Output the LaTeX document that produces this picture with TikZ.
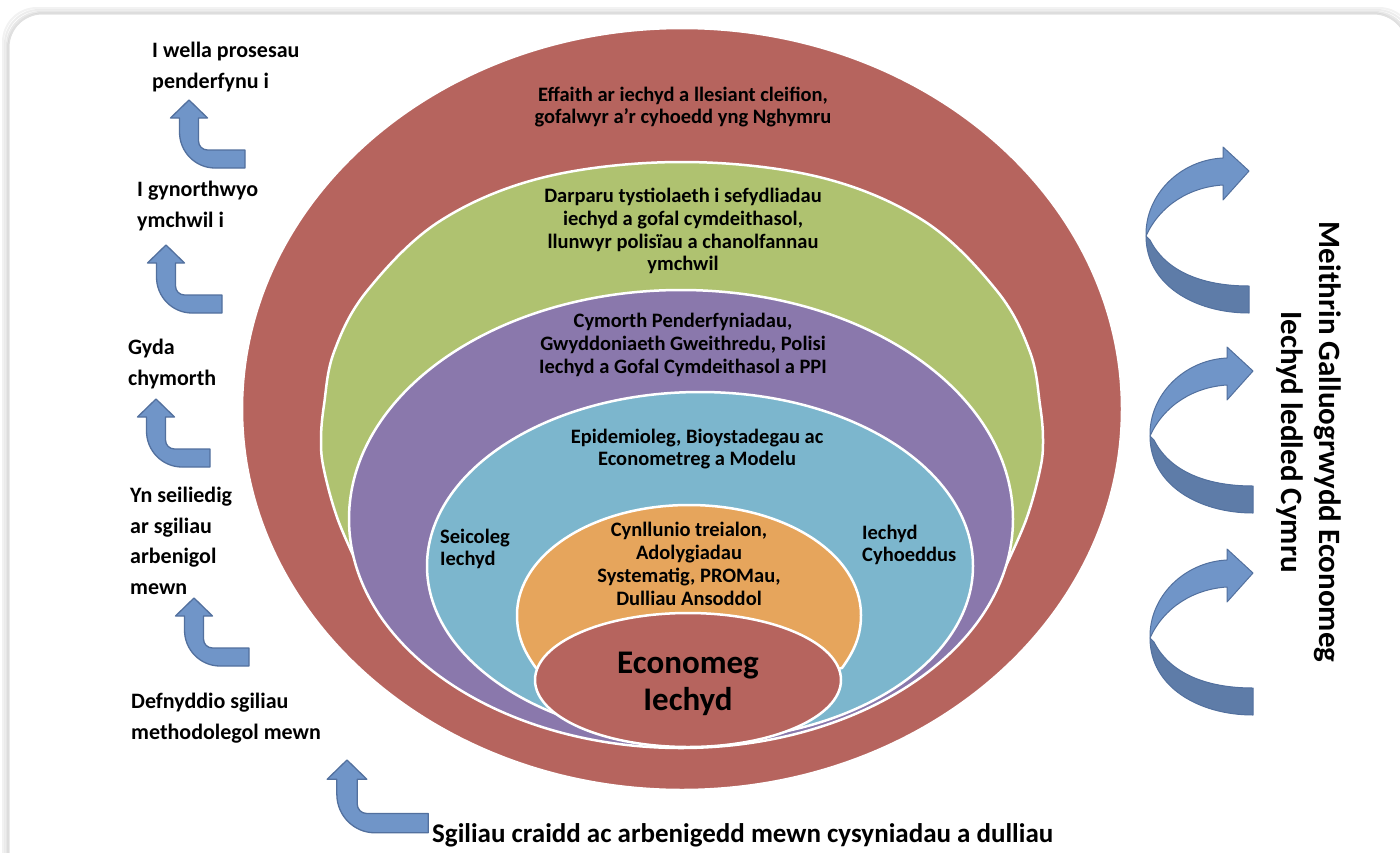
\documentclass[tikz,border=0pt]{standalone}
\usepackage{fontspec}
\setmainfont{Carlito}
\definecolor{redE}{RGB}{182,100,94}
\definecolor{greenE}{RGB}{175,194,112}
\definecolor{purpleE}{RGB}{138,120,172}
\definecolor{blueE}{RGB}{124,182,205}
\definecolor{orangeE}{RGB}{230,165,92}
\definecolor{arrLight}{RGB}{112,149,200}
\definecolor{arrDark}{RGB}{94,124,168}
\definecolor{arrEdge}{RGB}{82,112,158}
\begin{document}
\begin{tikzpicture}[x=1pt,y=-1pt,
  band/.style={draw=white,line width=2.5pt},
  lbl/.style={font=\bfseries\fontsize{20.5}{22.8}\selectfont,align=center,text=black,inner sep=0pt},
  side/.style={font=\bfseries\fontsize{22}{30.5}\selectfont,align=left,anchor=west,inner sep=0pt},
  bentup/.pic={
    \path[fill=arrLight,draw=arrEdge,line width=1.3pt,line join=round]
      (0,0) -- (18.5,18) -- (9.5,18) -- (9.5,41)
      .. controls (9.5,46) and (13.5,50) .. (18.5,50)
      -- (#1,50) -- (#1,68) -- (26,68)
      .. controls (6.5,68) and (-9.5,52) .. (-9.5,32)
      -- (-9.5,18) -- (-18.5,18) -- cycle;
  },
  curvr/.pic={
    \path[fill=arrDark,draw=arrEdge,line width=1pt,line join=round]
      (-103,65) .. controls (-103,114) and (-54,142) .. (0,142)
      -- (0,115) .. controls (-49,115) and (-84,99) .. (-99,69) -- cycle;
    \path[fill=arrLight,draw=arrEdge,line width=1pt,line join=round]
      (0,0) -- (-26,-24) -- (-26,-13)
      .. controls (-69,-11) and (-104,24) .. (-103,65)
      .. controls (-89,34) and (-59,16) .. (-26,14)
      -- (-26,29) -- cycle;
  }]
\useasboundingbox (0,0) rectangle (1400,852);
\fill[white] (0,0) rectangle (1400,852);
% panel with soft shadow
\foreach \s/\o in {7/0.05,5/0.07,3/0.09,1.5/0.12}{
  \draw[black,opacity=\o,line width=2pt,rounded corners=34pt]
    (10-\s,15-\s) rectangle (1406+\s,900);
}
\fill[white,rounded corners=32pt] (10,15) rectangle (1406,900);

% nested shapes
\path[band,fill=redE] (682,409) ellipse [x radius=440pt, y radius=381pt];
\path[band,fill=greenE,line join=round]
  plot[smooth,tension=0.6] coordinates {(361,572) (338,520) (324,470) (321,440) (324,405)
    (334,352) (367,291) (440,221) (545,177) (682,162) (819,177) (924,221) (997,291)
    (1030,352) (1040,405) (1043,440) (1040,470) (1026,520) (1003,572)}
  -- (944,600) -- (682,650) -- (420,600) -- cycle;
\path[band,fill=purpleE] (681,519) ellipse [x radius=332pt, y radius=229pt];
\path[band,fill=blueE]   (700,566) ellipse [x radius=273pt, y radius=174pt];
\path[band,fill=orangeE,line join=round]
  (536,668) .. controls (523,650) and (517,635) .. (517,615)
  .. controls (517,554) and (593.5,505) .. (689,505)
  .. controls (784.5,505) and (861,554) .. (861,615)
  .. controls (861,635) and (855,650) .. (842,668)
  -- (689,700) -- cycle;
\path[band,fill=redE] (688,680) ellipse [x radius=153pt, y radius=67pt];

% texts inside the shapes
\node[lbl] (t1) at (683,107) {Effaith ar iechyd a llesiant cleifion,\\gofalwyr a’r cyhoedd yng Nghymru};
\node[lbl] (t2) at (683,231) {Darparu tystiolaeth i sefydliadau\\iechyd a gofal cymdeithasol,\\llunwyr polisïau a chanolfannau\\ymchwil};
\node[lbl] (t3) at (683,345) {Cymorth Penderfyniadau,\\Gwyddoniaeth Gweithredu, Polisi\\Iechyd a Gofal Cymdeithasol a PPI};
\node[lbl] (t4) at (697,449) {Epidemioleg, Bioystadegau ac\\Econometreg a Modelu};
\node[lbl,align=left,anchor=west] (t5) at (440,549) {Seicoleg\\Iechyd};
\node[lbl,align=left,anchor=west] (t6) at (862,545) {Iechyd\\Cyhoeddus};
\node[lbl] (t7) at (689,564) {Cynllunio treialon,\\Adolygiadau\\Systematig, PROMau,\\Dulliau Ansoddol};
\node[lbl,font=\bfseries\fontsize{33}{37}\selectfont] (t8) at (688,684) {Economeg\\Iechyd};

% left ladder texts
\node[side] (s1) at (152,67) {I wella prosesau\\penderfynu i};
\node[side] (s2) at (137,206) {I gynorthwyo\\ymchwil i};
\node[side] (s3) at (128,364) {Gyda\\chymorth};
\node[side] (s4) at (130,541) {Yn seiliedig\\ar sgiliau\\arbenigol\\mewn};
\node[side] (s5) at (131,718) {Defnyddio sgiliau\\methodolegol mewn};
\node[side,font=\bfseries\fontsize{27}{30}\selectfont] (s6) at (432,835) {Sgiliau craidd ac arbenigedd mewn cysyniadau a dulliau};

% bent up arrows
\pic at (189,100) {bentup=56};
\pic at (166,245) {bentup=56};
\pic at (156,399) {bentup=54};
\pic at (194,598) {bentup=55};
\pic[scale=1.07] at (347,760) {bentup=76};

% curved right arrows
\pic at (1249,171) {curvr};
\pic at (1253,371) {curvr};
\pic at (1253,573) {curvr};

% rotated text
\node[rotate=-90,font=\bfseries\fontsize{31}{38}\selectfont,align=center,inner sep=0pt] (mg) at (1309,442)
  {Meithrin Galluogrwydd Economeg\\Iechyd ledled Cymru};
\end{tikzpicture}
\end{document}
